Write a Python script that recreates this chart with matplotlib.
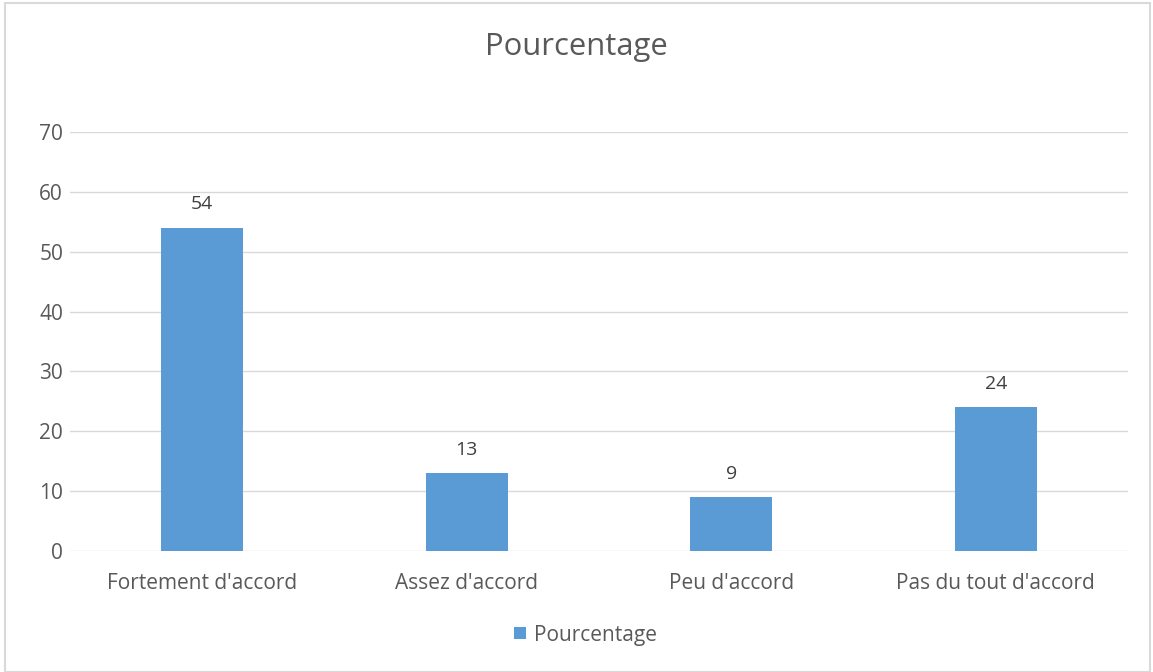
import matplotlib
matplotlib.use('Agg')
from matplotlib import pyplot as plt
from matplotlib.patches import Rectangle

categories = ["Fortement d'accord", "Assez d'accord", "Peu d'accord", "Pas du tout d'accord"]
values = [54, 13, 9, 24]
series_name = 'Pourcentage'
yticks = [0, 10, 20, 30, 40, 50, 60, 70]

bar_color = '#5B9BD5'
text_color = '#595959'
grid_color = '#D9D9D9'

plt.rcParams['font.family'] = ['Open Sans', 'DejaVu Sans']

fig = plt.figure(figsize=(11.53, 6.72), dpi=100)
ax = fig.add_axes([0.0607, 0.180, 0.9176, 0.6235])

x = list(range(len(categories)))
bars = ax.bar(x, values, width=0.31, color=bar_color, label=series_name, zorder=3)

# value labels above each bar
for b, v in zip(bars, values):
    ax.text(b.get_x() + b.get_width() / 2, v + 2.4, str(v), ha='center', va='bottom',
            fontsize=14, color='#404040')

ax.set_xlim(-0.5, len(categories) - 0.5)
ax.set_ylim(0, 70)
ax.set_yticks(yticks)
ax.set_xticks(x)
ax.set_xticklabels(categories)
ax.tick_params(axis='both', length=0, labelsize=15, colors=text_color)
ax.tick_params(axis='x', pad=16)
ax.tick_params(axis='y', pad=5)
ax.grid(axis='y', color=grid_color, linewidth=1, zorder=0)
for s in ax.spines.values():
    s.set_visible(False)

fig.text(0.5, 0.93, 'Pourcentage', ha='center', va='center', fontsize=22.3, color=text_color)

leg = fig.legend(handles=[bars], labels=[series_name], loc='center', bbox_to_anchor=(0.508, 0.055),
                 frameon=False, fontsize=15, handlelength=0.55, handleheight=0.55,
                 handletextpad=0.4)
for t in leg.get_texts():
    t.set_color(text_color)

fig.patches.append(Rectangle((0.004, 0.0), 0.993, 0.995, transform=fig.transFigure,
                             fill=False, edgecolor='#D9D9D9', linewidth=1.5))

fig.savefig('out.png', dpi=100)
